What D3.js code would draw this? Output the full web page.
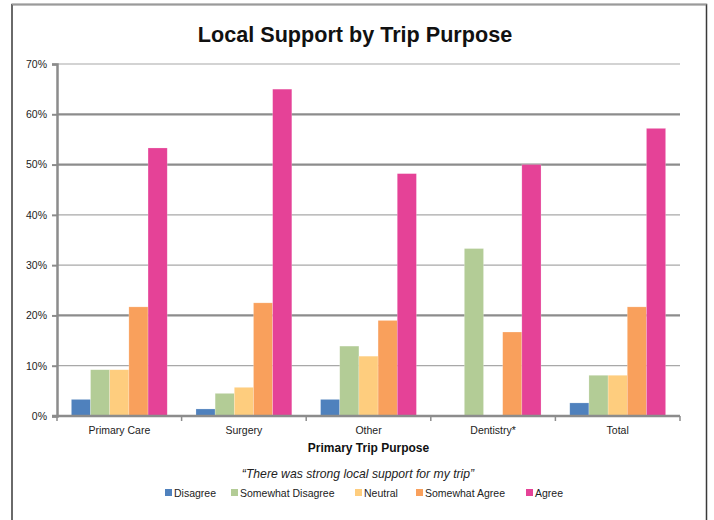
<!DOCTYPE html>
<html><head><meta charset="utf-8">
<script src="https://cdn.jsdelivr.net/npm/d3@7"></script>
<style>body{margin:0;background:#fff}svg{display:block}text{font-family:"Liberation Sans",Arial,sans-serif}</style>
</head><body><svg id="c" width="714" height="520"></svg>
<script>
const categories = ["Primary Care","Surgery","Other","Dentistry*","Total"];
const seriesNames = ["Disagree","Somewhat Disagree","Neutral","Somewhat Agree","Agree"];
const colors = ["#4F81BD","#B3CC96","#FECD7E","#F9A05C","#E54297"];
const disagree = [3.3,1.4,3.3,0,2.6];
const somewhatDisagree = [9.2,4.5,13.9,33.3,8.1];
const neutral = [9.2,5.7,11.9,0,8.1];
const somewhatAgree = [21.7,22.5,19.0,16.7,21.7];
const agree = [53.3,65.0,48.2,50.0,57.2];
const yTicks = [0,10,20,30,40,50,60,70];
const thickGrid = [0,20,50,60];

const values = [disagree, somewhatDisagree, neutral, somewhatAgree, agree];
const svg = d3.select("#c");
const L=57,R=680,T=64,B=416;
// border
svg.append("path").attr("d","M12,520V4.5H706.5V520").attr("fill","none").attr("stroke","#3a3a3a").attr("stroke-width",1.5);
svg.append("line").attr("x1",12).attr("x2",706.5).attr("y1",4.5).attr("y2",4.5).attr("stroke","#9a9a9a").attr("stroke-width",1.5);

const x = d3.scaleBand().domain(categories).range([L,R]).padding(0);
const xs = d3.scaleBand().domain(seriesNames).range([0,x.bandwidth()]).paddingInner(0).paddingOuter(0.75);
const y = d3.scaleLinear().domain([0,70]).range([B,T]);

// grid
svg.append("g").selectAll("line").data(yTicks.filter(d=>d>0)).join("line")
 .attr("x1",L).attr("x2",R).attr("y1",d=>y(d)).attr("y2",d=>y(d))
 .attr("stroke",d=>thickGrid.includes(d)?"#8c8c8c":"#a8a8a8")
 .attr("stroke-width",d=>thickGrid.includes(d)?2.2:1.2);

// bars
const g = svg.append("g");
categories.forEach((c,ci)=>{
  seriesNames.forEach((s,si)=>{
    const v = values[si][ci];
    if(v<=0) return;
    g.append("rect").attr("x",x(c)+xs(s)).attr("width",xs.bandwidth())
     .attr("y",y(v)).attr("height",y(0)-y(v)).attr("fill",colors[si])
     .attr("stroke","rgba(255,255,255,0.35)").attr("stroke-width",0.6);
  });
});

// y axis
const ya = svg.append("g").attr("transform",`translate(${L},0)`)
 .call(d3.axisLeft(y).tickValues(yTicks).tickFormat(d=>d+"%").tickSize(5).tickPadding(5));
ya.select(".domain").attr("stroke","#8c8c8c").attr("stroke-width",2.5);
ya.selectAll(".tick line").attr("stroke","#8c8c8c").attr("stroke-width",2);
ya.selectAll("text").attr("font-size",10.5).attr("fill","#222");

// x axis
const xa = svg.append("g").attr("transform",`translate(0,${B})`)
 .call(d3.axisBottom(x).tickSize(0).tickPadding(11));
xa.select(".domain").attr("stroke","#8c8c8c").attr("stroke-width",2.5).attr("d",`M${L-5},0H${R}`);
xa.selectAll("text").attr("font-size",10.5).attr("fill","#222");
const bounds = categories.map(c=>x(c)).concat([R]);
svg.append("g").selectAll("line").data(bounds).join("line")
 .attr("x1",d=>d).attr("x2",d=>d).attr("y1",B).attr("y2",B+5)
 .attr("stroke","#8c8c8c").attr("stroke-width",1.5);

// titles
svg.append("text").attr("x",355).attr("y",42).attr("text-anchor","middle")
 .attr("font-size",21.6).attr("font-weight","bold").attr("fill","#111").text("Local Support by Trip Purpose");
svg.append("text").attr("x",(L+R)/2).attr("y",452).attr("text-anchor","middle")
 .attr("font-size",12).attr("font-weight","bold").attr("fill","#111").text("Primary Trip Purpose");
svg.append("text").attr("x",358).attr("y",478).attr("text-anchor","middle")
 .attr("font-size",12.2).attr("font-style","italic").attr("fill","#222").text("\u201CThere was strong local support for my trip\u201D");

// legend
const legX = [165,231,355,416,526];
const lg = svg.append("g");
seriesNames.forEach((s,i)=>{
  lg.append("rect").attr("x",legX[i]).attr("y",489).attr("width",7).attr("height",7).attr("fill",colors[i]);
  lg.append("text").attr("x",legX[i]+9).attr("y",497).attr("font-size",10.5).attr("fill","#222").text(s);
});
</script></body></html>
